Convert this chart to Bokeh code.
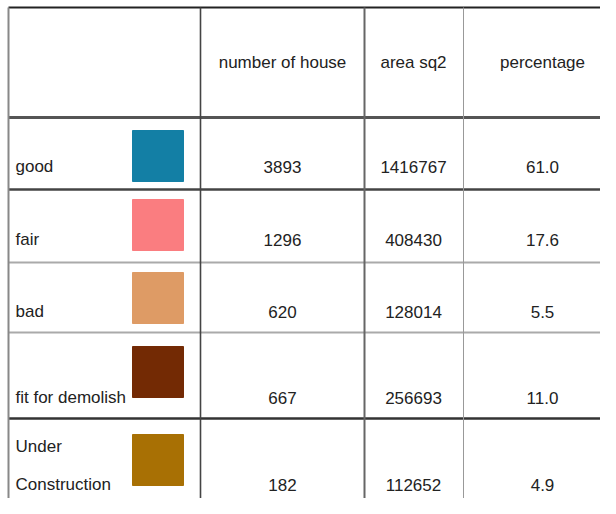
from bokeh.plotting import figure
from bokeh.models import Range1d
from bokeh.core.properties import value
from bokeh.embed import file_html
from bokeh.resources import INLINE

# ---- data ----
headers = ["number of house", "area sq2", "percentage"]
categories = ["good", "fair", "bad", "fit for demolish", "Under\nConstruction"]
colors = ["#137FA5", "#FA7D80", "#DE9B65", "#732A04", "#A87004"]
houses = [3893, 1296, 620, 667, 182]
area = [1416767, 408430, 128014, 256693, 112652]
percentage = [61.0, 17.6, 5.5, 11.0, 4.9]

# ---- layout (reference pixel coordinates) ----
FONT = "Liberation Sans"
FS = "17px"
row_edges = [7, 117, 189, 262, 332, 418, 530]
col_edges = [8, 200, 364, 463, 640]
col_centers = [282, 413, 542]
text_y = [166, 239, 311, 397, 484]
sq_top = [130, 199, 272, 346, 434]
sq_size = 51
sq_left = 132

p = figure(width=600, height=498, output_backend="svg", toolbar_location=None,
           x_range=Range1d(0, 600), y_range=Range1d(498, 0),
           min_border=0, outline_line_color=None)
p.axis.visible = False
p.grid.visible = False
p.background_fill_color = "white"
p.border_fill_color = "white"

# horizontal lines
h_col = ["#222222", "#555555", "#444444", "#aaaaaa", "#aaaaaa", "#333333"]
h_w = [2.2, 3, 2.5, 2, 2, 2.5]
p.segment(x0=[col_edges[0]] * 6, x1=[col_edges[-1]] * 6,
          y0=row_edges[:6], y1=row_edges[:6], line_color=h_col, line_width=h_w)
# vertical lines
v_col = ["#888888", "#444444", "#666666", "#999999"]
v_w = [2, 1.6, 2, 1]
p.segment(x0=col_edges[:4], x1=col_edges[:4], y0=[row_edges[0]] * 4,
          y1=[row_edges[-1]] * 4, line_color=v_col, line_width=v_w)

# header texts
p.text(x=col_centers, y=[62] * 3, text=headers, text_font=value(FONT),
       text_font_size=FS, text_align="center", text_baseline="middle",
       text_color="#222222")

# swatches
p.quad(left=[sq_left] * 5, right=[sq_left + sq_size] * 5,
       top=sq_top, bottom=[t + sq_size for t in sq_top],
       fill_color=colors, line_color=colors, line_width=1)

# category labels
lab_x, lab_y, lab_t = [], [], []
for i, c in enumerate(categories):
    parts = c.split("\n")
    if len(parts) == 1:
        lab_x.append(15); lab_y.append(text_y[i]); lab_t.append(c)
    else:
        lab_x += [15, 15]; lab_y += [text_y[i] - 38, text_y[i]]; lab_t += parts
p.text(x=lab_x, y=lab_y, text=lab_t, text_font=value(FONT), text_font_size=FS,
       text_align="left", text_baseline="middle", text_color="#222222")

# values
for j, vals in enumerate([houses, area, ["%.1f" % v for v in percentage]]):
    p.text(x=[col_centers[j]] * 5, y=text_y, text=[str(v) for v in vals],
           text_font=value(FONT), text_font_size=FS, text_align="center",
           text_baseline="middle", text_color="#222222")

open("out.html", "w").write(file_html(p, INLINE))
